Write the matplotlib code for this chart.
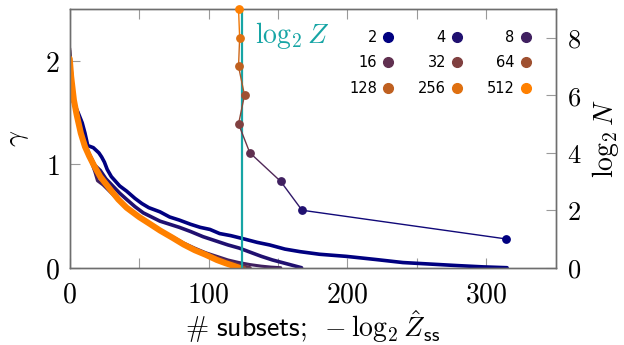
import matplotlib
matplotlib.use("Agg")
import matplotlib.pyplot as plt
from matplotlib.lines import Line2D
import numpy as np

plt.rcParams['mathtext.fontset'] = 'cm'
plt.rcParams['font.family'] = ['DejaVu Sans']

# ---- data ----
n_values = [2, 4, 8, 16, 32, 64, 128, 256, 512]
log2_n = [1, 2, 3, 4, 5, 6, 7, 8, 9]
# -log2 Z_ss (number of subsets) for each N
subsets_end = [314.5, 167.3, 152.0, 129.7, 121.6, 125.9, 121.6, 122.4, 121.6]
log2_z = 124.2

# gamma vs number of subsets, one curve per N
curve_x = {
    2: [0, 1, 2, 4, 6, 9, 11, 13, 17, 21, 23, 25, 27, 30, 36, 41, 47, 52, 57, 65, 72, 79, 87,
        94, 101, 108, 116, 125, 135, 144, 155, 166, 180, 199, 220, 240, 260, 280, 298, 315],
    4: [0, 2, 5, 8, 11, 14, 18, 22, 26, 31, 36, 41, 47, 53, 59, 65, 72, 79, 87, 96, 105, 114,
        122, 130, 138, 146, 153, 160, 167],
    8: [0, 3, 6, 10, 14, 18, 20, 24, 30, 36, 42, 50, 58, 66, 74, 82, 90, 98, 106, 114, 122,
        130, 138, 145, 152],
    16: [0, 3, 6, 10, 14, 18, 24, 30, 36, 42, 50, 58, 66, 74, 82, 90, 98, 106, 114, 122, 130],
    32: [0, 3, 8, 14, 22, 29, 41, 50, 65, 74, 90, 98, 106, 114, 122],
    64: [0, 3, 8, 14, 22, 29, 41, 50, 65, 74, 90, 98, 106, 114, 120, 126],
    128: [0, 3, 8, 14, 22, 29, 41, 50, 65, 74, 90, 98, 106, 114, 122],
    256: [0, 3, 8, 14, 22, 29, 41, 50, 65, 74, 90, 98, 106, 114, 122],
    512: [0, 1, 3, 5, 8, 11, 14, 17, 22, 29, 35, 41, 50, 57, 65, 74, 82, 90, 98, 106, 112,
          118, 122],
}
curve_gamma = {
    2: [2.05, 1.80, 1.62, 1.56, 1.50, 1.40, 1.30, 1.18, 1.16, 1.11, 1.07, 1.02, 0.95, 0.88,
        0.79, 0.74, 0.67, 0.62, 0.58, 0.54, 0.49, 0.46, 0.42, 0.39, 0.37, 0.33, 0.31, 0.28,
        0.245, 0.22, 0.18, 0.155, 0.13, 0.11, 0.08, 0.05, 0.035, 0.02, 0.008, 0.0],
    4: [2.0, 1.70, 1.50, 1.35, 1.20, 1.10, 0.99, 0.94, 0.86, 0.79, 0.72, 0.66, 0.59, 0.53,
        0.49, 0.45, 0.42, 0.39, 0.35, 0.30, 0.26, 0.22, 0.19, 0.15, 0.11, 0.075, 0.05, 0.025,
        0.0],
    8: [2.1, 1.62, 1.42, 1.22, 1.08, 0.93, 0.84, 0.80, 0.72, 0.64, 0.57, 0.49, 0.42, 0.35,
        0.30, 0.24, 0.19, 0.145, 0.11, 0.075, 0.05, 0.03, 0.015, 0.006, 0.0],
    16: [2.12, 1.62, 1.40, 1.21, 1.07, 0.95, 0.82, 0.73, 0.64, 0.57, 0.49, 0.42, 0.35, 0.29,
         0.23, 0.18, 0.14, 0.10, 0.06, 0.03, 0.0],
    32: [2.0, 1.62, 1.30, 1.08, 0.88, 0.76, 0.58, 0.49, 0.36, 0.29, 0.17, 0.125, 0.075, 0.035, 0.0],
    64: [2.05, 1.62, 1.30, 1.08, 0.88, 0.76, 0.58, 0.49, 0.36, 0.29, 0.17, 0.13, 0.085, 0.045,
         0.02, 0.0],
    128: [2.0, 1.62, 1.30, 1.08, 0.88, 0.76, 0.58, 0.49, 0.36, 0.29, 0.17, 0.125, 0.075, 0.035, 0.0],
    256: [2.0, 1.62, 1.30, 1.08, 0.88, 0.76, 0.58, 0.49, 0.36, 0.29, 0.17, 0.125, 0.075, 0.035, 0.0],
    512: [2.02, 1.85, 1.62, 1.48, 1.30, 1.17, 1.08, 1.00, 0.88, 0.76, 0.66, 0.58, 0.49, 0.43,
          0.36, 0.29, 0.225, 0.17, 0.125, 0.075, 0.045, 0.018, 0.0],
}

# navy -> orange colour ramp
navy = np.array([0.0, 0.0, 0.5])
orange = np.array([1.0, 0.5, 0.0])
colors = [tuple(navy + (orange - navy) * i / 8) for i in range(9)]
teal = '#17a5a5'
spine_col = '#6e6e6e'
tick_col = '#9a9a9a'

fig = plt.figure(figsize=(6.24, 3.45), dpi=100)
ax = fig.add_axes([0.1117, 0.224, 0.7788, 0.750])

# gamma curves, orange (N=512) drawn last and thickest
for i in range(9):
    n = n_values[i]
    if n == 512:
        lw = 4.4
    elif n <= 4:
        lw = 2.6
    else:
        lw = 2.2
    ax.plot(curve_x[n], curve_gamma[n], color=colors[i], lw=lw,
            solid_capstyle='round', solid_joinstyle='round', zorder=2 + i * 0.1)

ax.axvline(log2_z, color=teal, lw=1.6, zorder=3)
ax.text(log2_z + 9, 2.17, r'$\log_2 Z$', color=teal, fontsize=20, va='baseline')

ax.set_xlim(0, 350)
ax.set_ylim(0, 2.5)
ax.set_xticks([0, 100, 200, 300])
ax.set_xticklabels([r'$\mathsf{%d}$' % v for v in [0, 100, 200, 300]])
ax.set_xticks([50, 150, 250], minor=True)
ax.set_yticks([0, 1, 2])
ax.set_yticklabels([r'$%d$' % v for v in [0, 1, 2]])
ax.tick_params(axis='both', which='both', direction='in', length=7.5, width=0.8,
               color=tick_col, labelsize=20)
ax.tick_params(axis='x', which='both', top=True, pad=9)
ax.tick_params(axis='y', pad=7)
for s in ax.spines.values():
    s.set_color(spine_col)
    s.set_linewidth(1.0)

ax.set_xlabel(r'$\mathsf{\#\ subsets;}\ -\log_2 \hat{Z}_{\mathsf{ss}}$', fontsize=20, labelpad=0)
ax.set_ylabel(r'$\gamma$', fontsize=20, labelpad=10)

# log2 N vs -log2 Z_ss on the right axis
ax2 = ax.twinx()
ax2.set_ylim(0, 9)
for i in range(8):
    seg_col = tuple((np.array(colors[i]) + np.array(colors[i + 1])) / 2)
    ax2.plot(subsets_end[i:i + 2], log2_n[i:i + 2], color=seg_col, lw=1.0, zorder=4,
             clip_on=False)
for i in range(9):
    ax2.plot(subsets_end[i], log2_n[i], 'o', color=colors[i], ms=5.3, zorder=5, clip_on=False)
ax2.set_yticks([0, 2, 4, 6, 8])
ax2.set_yticklabels([r'$%d$' % v for v in [0, 2, 4, 6, 8]])
ax2.tick_params(axis='y', direction='in', length=7.5, width=0.8, color=tick_col,
                labelsize=19, pad=8)
for s in ax2.spines.values():
    s.set_color(spine_col)
    s.set_linewidth(1.0)
ax2.set_ylabel(r'$\log_2 N$', fontsize=20, labelpad=6)

# legend: 3 rows of 3, label left of marker
handles = [Line2D([], [], marker='o', ls='', color=colors[i], ms=7) for i in range(9)]
order = [0, 3, 6, 1, 4, 7, 2, 5, 8]
ax2.legend([handles[k] for k in order], [str(n_values[k]) for k in order], ncol=3,
           markerfirst=False, frameon=False, fontsize=10.5, handlelength=0.6,
           handletextpad=0.45, columnspacing=1.75, labelspacing=0.72, borderpad=0,
           loc='upper right', bbox_to_anchor=(0.861, 0.935), bbox_transform=fig.transFigure)

fig.savefig('out.png', dpi=100)
